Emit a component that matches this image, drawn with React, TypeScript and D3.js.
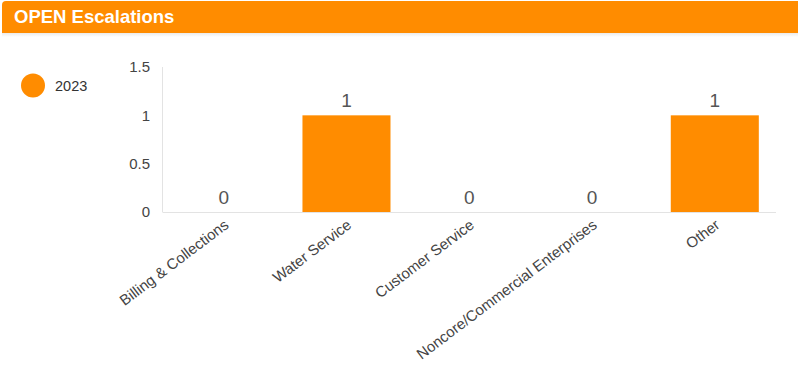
import React from "react";
import * as d3 from "d3";

const title = "OPEN Escalations";
const seriesName = "2023";
const categories = [
  "Billing & Collections",
  "Water Service",
  "Customer Service",
  "Noncore/Commercial Enterprises",
  "Other",
];
const values = [0, 1, 0, 0, 1];
const yTicks = [0, 0.5, 1, 1.5];

const W = 798;
const H = 372;
const ORANGE = "#FF8C00";
const FONT = "Arial, 'Liberation Sans', sans-serif";

export default function App() {
  const left = 162.5;
  const right = 776;
  const top = 67;
  const bottom = 212;

  const x = d3.scaleBand<string>().domain(categories).range([left, right]).paddingInner(0.283).paddingOuter(0.14);
  const y = d3.scaleLinear().domain([0, 1.5]).range([bottom, top]);

  return (
    <div style={{ position: "fixed", left: 0, top: 0, width: W, height: H, background: "#fff" }}>
      <svg width={W} height={H} style={{ display: "block" }}>
        <defs>
          <linearGradient id="shadow" x1="0" y1="0" x2="0" y2="1">
            <stop offset="0" stopColor="#000" stopOpacity={0.08} />
            <stop offset="1" stopColor="#000" stopOpacity={0} />
          </linearGradient>
        </defs>
        <rect x={2} y={33} width={W - 2} height={4} fill="url(#shadow)" />
        <path d={`M2,33 L2,5 Q2,1 6,1 L${W},1 L${W},33 Z`} fill={ORANGE} />
        <text x={14} y={23} fill="#fff" fontFamily={FONT} fontWeight="bold" fontSize={18.5}>
          {title}
        </text>

        {/* legend */}
        <circle cx={33} cy={85.5} r={12} fill={ORANGE} />
        <text x={55} y={85.5} dy="0.35em" fill="#333" fontFamily={FONT} fontSize={14.5}>
          {seriesName}
        </text>

        {/* axes */}
        <line x1={left} x2={left} y1={top} y2={bottom} stroke="#e3e3e3" strokeWidth={1} />
        <line x1={left} x2={right} y1={bottom + 0.5} y2={bottom + 0.5} stroke="#e3e3e3" strokeWidth={1} />
        {yTicks.map((t) => (
          <text key={t} x={150} y={y(t)} dy="0.35em" textAnchor="end" fill="#444" fontFamily={FONT} fontSize={15}>
            {t}
          </text>
        ))}

        {/* bars */}
        {categories.map((c, i) => {
          const bx = x(c)!;
          const bw = x.bandwidth();
          const v = values[i];
          return (
            <g key={c}>
              {v > 0 && <rect x={bx} y={y(v)} width={bw} height={bottom - y(v)} fill={ORANGE} />}
              <text
                x={bx + bw / 2}
                y={y(v) - 8}
                textAnchor="middle"
                fill="#555"
                fontFamily={FONT}
                fontSize={19}
              >
                {v}
              </text>
              <text
                transform={`translate(${bx + bw / 2 + 6},${bottom + 15}) rotate(-37)`}
                textAnchor="end"
                fill="#444"
                fontFamily={FONT}
                fontSize={15}
              >
                {c}
              </text>
            </g>
          );
        })}
      </svg>
    </div>
  );
}
